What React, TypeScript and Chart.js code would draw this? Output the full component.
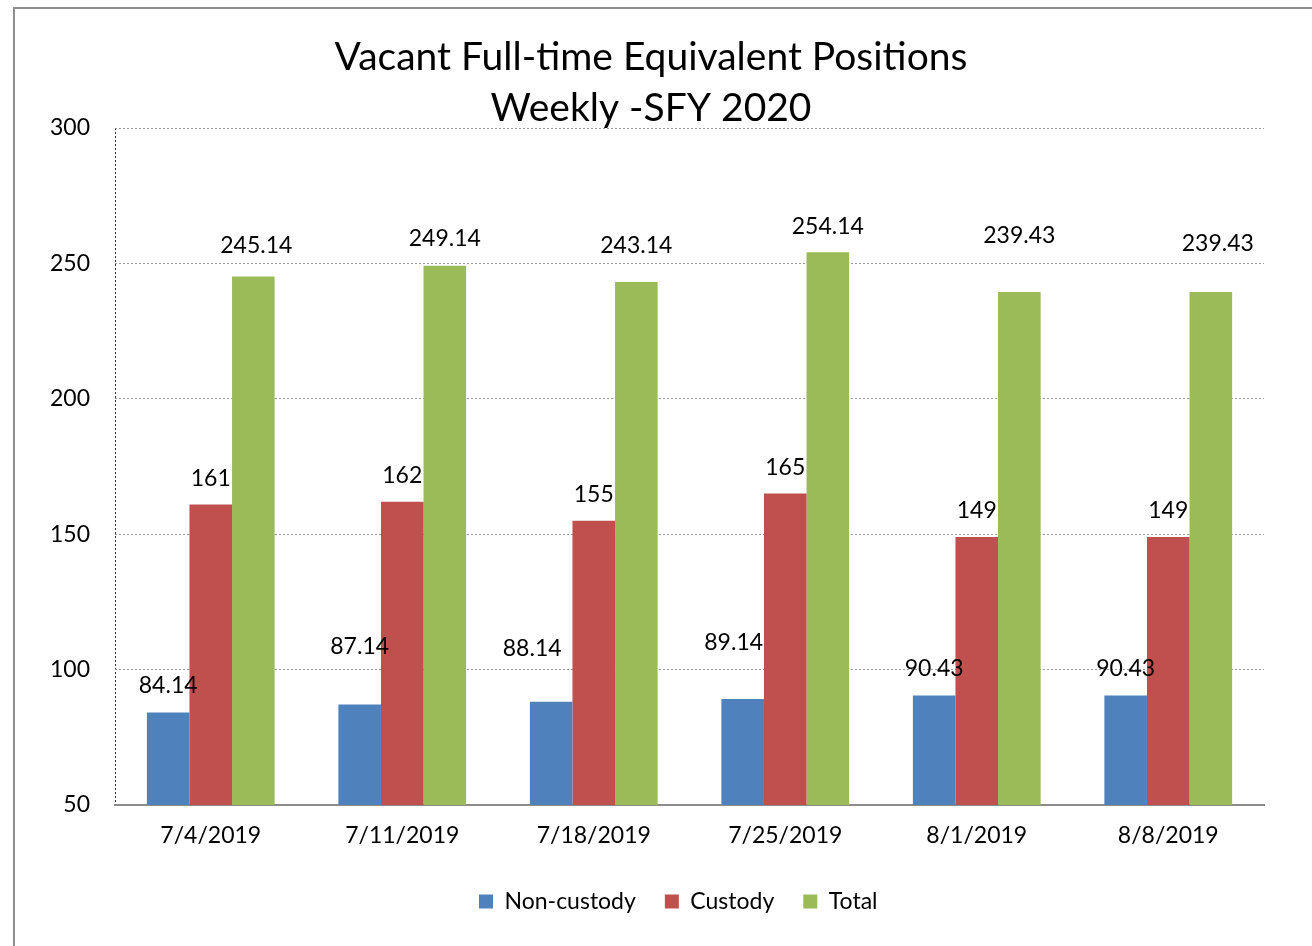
import React, { useEffect, useRef } from 'react';
import { Chart, registerables } from 'chart.js';

Chart.register(...registerables);

// ---- data ----
const categories = ['7/4/2019', '7/11/2019', '7/18/2019', '7/25/2019', '8/1/2019', '8/8/2019'];
const nonCustody = [84.14, 87.14, 88.14, 89.14, 90.43, 90.43];
const custody = [161, 162, 155, 165, 149, 149];
const total = [245.14, 249.14, 243.14, 254.14, 239.43, 239.43];
const seriesNames = ['Non-custody', 'Custody', 'Total'];
const yMin = 50;
const yMax = 300;
const yStep = 50;
const titleLines = ['Vacant Full-time Equivalent Positions', 'Weekly -SFY 2020'];

// ---- data-label placement (pixels above bar top / horizontal nudge) ----
const nonCustodyLabelLift = [27, 58, 53, 56, 27, 27];
const nonCustodyLabelShift = [0, 0, -19, -9, 0, 0];
const custodyLabelLift = [26, 26, 26, 26, 26, 26];
const custodyLabelShift = [0, 0, 0, 0, 0, 0];
const totalLabelLift = [31, 27, 36, 26, 56, 48];
const totalLabelShift = [3, 0, 0, 0, 0, 7];

const COLORS = ['#4F81BD', '#C0504D', '#9BBB59'];
const FONT = 'Lato';
const TEXT_SIZE = 23;

const labelLifts = [nonCustodyLabelLift, custodyLabelLift, totalLabelLift];
const labelShifts = [nonCustodyLabelShift, custodyLabelShift, totalLabelShift];

const barValueLabels = {
  id: 'barValueLabels',
  afterDatasetsDraw(chart: any) {
    const ctx = chart.ctx;
    ctx.save();
    ctx.font = `${TEXT_SIZE}px ${FONT}`;
    ctx.fillStyle = '#000';
    ctx.textAlign = 'center';
    ctx.textBaseline = 'middle';
    chart.data.datasets.forEach((ds: any, di: number) => {
      const meta = chart.getDatasetMeta(di);
      meta.data.forEach((bar: any, i: number) => {
        const v = ds.data[i];
        ctx.fillText(String(v), bar.x + labelShifts[di][i], bar.y - labelLifts[di][i]);
      });
    });
    ctx.restore();
  },
};

export default function App() {
  const canvasRef = useRef<HTMLCanvasElement | null>(null);

  useEffect(() => {
    if (!canvasRef.current) return;
    const chart = new Chart(canvasRef.current, {
      type: 'bar',
      data: {
        labels: categories,
        datasets: [
          { label: seriesNames[0], data: nonCustody, backgroundColor: COLORS[0] },
          { label: seriesNames[1], data: custody, backgroundColor: COLORS[1] },
          { label: seriesNames[2], data: total, backgroundColor: COLORS[2] },
        ],
      },
      options: {
        responsive: false,
        animation: false,
        events: [],
        layout: { padding: { left: 38, right: 48, top: 32, bottom: 23 } },
        datasets: {
          bar: { categoryPercentage: 0.667, barPercentage: 1.0, borderWidth: 0 },
        },
        plugins: {
          title: {
            display: true,
            text: titleLines,
            color: '#000',
            font: { family: FONT, size: 39, weight: 'normal', lineHeight: 51 / 39 },
            padding: { top: 0, bottom: -6 },
          },
          legend: {
            display: true,
            position: 'bottom',
            labels: {
              color: '#000',
              font: { family: FONT, size: TEXT_SIZE },
              boxWidth: 14,
              boxHeight: 14,
              padding: 29,
              generateLabels: (chart: any) => {
                const items = Chart.defaults.plugins.legend.labels.generateLabels(chart);
                items.forEach((it: any) => { it.lineWidth = 0; it.strokeStyle = 'rgba(0,0,0,0)'; });
                return [
                  { text: '', fillStyle: 'rgba(0,0,0,0)', strokeStyle: 'rgba(0,0,0,0)', lineWidth: 0, hidden: false, datasetIndex: -1 },
                  ...items,
                ];
              },
            },
          },
          tooltip: { enabled: false },
        },
        scales: {
          x: {
            offset: true,
            grid: {
              offset: true,
              drawTicks: false,
              lineWidth: 1,
              color: (c: any) => (c.index === 0 ? '#333333' : 'rgba(0,0,0,0)'),
            },
            border: { display: true, color: '#8c8c8c', width: 2, dash: [2, 2] },
            ticks: { color: '#000', padding: 17, font: { family: FONT, size: TEXT_SIZE } },
            afterFit: (s: any) => { s.height = 56; },
          },
          y: {
            min: yMin,
            max: yMax,
            grid: {
              drawTicks: false,
              lineWidth: 1,
              color: (c: any) => (c.tick && c.tick.value === yMin ? 'rgba(0,0,0,0)' : '#9a9a9a'),
            },
            border: { display: false, dash: [2, 2] },
            ticks: { stepSize: yStep, color: '#000', padding: 25, font: { family: FONT, size: TEXT_SIZE } },
            afterFit: (s: any) => { s.width = 77; },
          },
        },
      },
      plugins: [barValueLabels],
    });
    return () => chart.destroy();
  }, []);

  return (
    <div style={{ position: 'fixed', left: 0, top: 0, width: 1312, height: 946, overflow: 'hidden', background: '#fff' }}>
      <div style={{ position: 'absolute', left: 13, top: 7, width: 1400, height: 1000, border: '2px solid #8e8e8e', boxSizing: 'border-box' }} />
      <canvas ref={canvasRef} width={1312} height={946} style={{ position: 'absolute', left: 0, top: 0 }} />
    </div>
  );
}
